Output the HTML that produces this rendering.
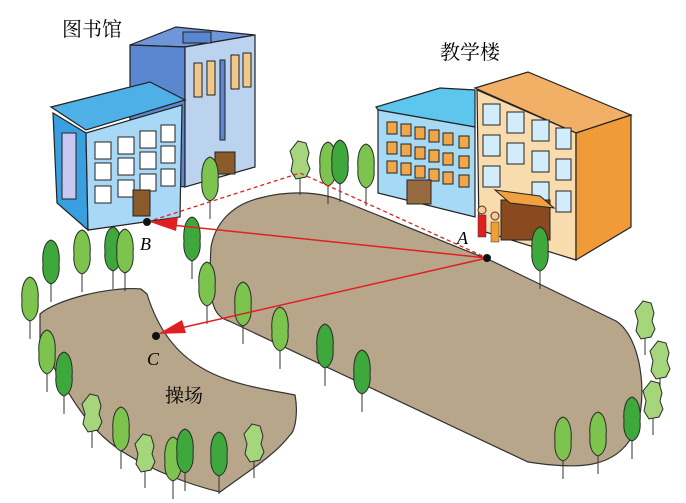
<!DOCTYPE html>
<html><head><meta charset="utf-8"><style>
html,body{margin:0;padding:0;background:#fff;}
svg{display:block;}
text{font-family:"Liberation Serif","Noto Serif CJK SC",serif;}
</style></head><body>
<svg width="686" height="503" viewBox="0 0 686 503" xmlns="http://www.w3.org/2000/svg">
<defs>
<g id="t1"><line x1="0" y1="0" x2="0" y2="34" stroke="#333" stroke-width="1"/><path d="M0,-28 C7,-26 9,-14 8,-4 C9,6 6,14 0,16 C-6,14 -9,6 -8,-4 C-9,-14 -7,-26 0,-28Z" fill="#3fa83c" stroke="#2a2a2a" stroke-width="1"/></g>
<g id="t2"><line x1="0" y1="0" x2="0" y2="34" stroke="#333" stroke-width="1"/><path d="M0,-28 C7,-26 9,-14 8,-4 C9,6 6,14 0,16 C-6,14 -9,6 -8,-4 C-9,-14 -7,-26 0,-28Z" fill="#7cc44e" stroke="#2a2a2a" stroke-width="1"/></g>
<g id="t3"><line x1="0" y1="0" x2="0" y2="30" stroke="#333" stroke-width="1"/><path d="M-2,-24 L6,-22 L9,-12 L7,-4 L10,4 L6,12 L-4,14 L-9,6 L-7,-4 L-10,-14Z" fill="#a6d67c" stroke="#2a2a2a" stroke-width="1"/></g>
</defs>
<!-- library back tall -->
<polygon points="130,45 176,27 255,35 185,47" fill="#6f96d8" stroke="#222" stroke-width="1.2"/>
<polygon points="130,45 185,47 185,187 130,180" fill="#5b86d0" stroke="#222" stroke-width="1.2"/>
<polygon points="185,47 255,35 255,167 185,187" fill="#bcd3f0" stroke="#222" stroke-width="1.2"/>
<rect x="183" y="32" width="28" height="11" fill="#5b86d0" stroke="#222"/>
<g fill="#f0c98a" stroke="#222"><rect x="194" y="63" width="8" height="34"/><rect x="207" y="61" width="8" height="34"/><rect x="231" y="55" width="8" height="34"/><rect x="243" y="53" width="8" height="34"/></g>
<rect x="220" y="60" width="5" height="80" fill="#5b86d0" stroke="#222"/>
<rect x="215" y="152" width="20" height="22" fill="#8a5a2a" stroke="#222"/>
<!-- library front -->
<polygon points="51,107 150,82 185,100 86,130" fill="#4fb0e8" stroke="#222" stroke-width="1.2"/>
<polygon points="53,113 86,133 88,230 57,203" fill="#3a9fe0" stroke="#222" stroke-width="1.2"/>
<polygon points="86,133 182,105 180,217 88,230" fill="#a8d8f5" stroke="#222" stroke-width="1.2"/>
<rect x="62" y="133" width="14" height="66" fill="#c6c8f0" stroke="#222"/>
<g fill="#fff" stroke="#222">
<rect x="95" y="142" width="16" height="17"/><rect x="118" y="137" width="16" height="17"/><rect x="140" y="131" width="16" height="17"/><rect x="161" y="125" width="14" height="17"/>
<rect x="95" y="163" width="16" height="17"/><rect x="118" y="158" width="16" height="17"/><rect x="140" y="152" width="16" height="17"/><rect x="161" y="146" width="14" height="17"/>
<rect x="95" y="186" width="16" height="17"/><rect x="118" y="180" width="16" height="17"/><rect x="140" y="174" width="16" height="17"/><rect x="161" y="169" width="14" height="17"/>
</g>
<rect x="133" y="190" width="17" height="26" fill="#8a5a2a" stroke="#222"/>
<!-- teaching blue -->
<polygon points="376,107 440,88 475,90 475,127 378,110" fill="#5cc6ef" stroke="#222" stroke-width="1.2"/>
<polygon points="378,110 475,127 475,217 378,193" fill="#a6d9f4" stroke="#222" stroke-width="1.2"/>
<g fill="#f1a64a" stroke="#222">
<rect x="387" y="122" width="10" height="12"/><rect x="401" y="124" width="10" height="12"/><rect x="415" y="127" width="10" height="12"/><rect x="429" y="130" width="10" height="12"/><rect x="443" y="133" width="10" height="12"/><rect x="459" y="136" width="10" height="12"/>
<rect x="387" y="142" width="10" height="12"/><rect x="401" y="144" width="10" height="12"/><rect x="415" y="147" width="10" height="12"/><rect x="429" y="150" width="10" height="12"/><rect x="443" y="153" width="10" height="12"/><rect x="459" y="156" width="10" height="12"/>
<rect x="387" y="161" width="10" height="12"/><rect x="401" y="163" width="10" height="12"/><rect x="415" y="166" width="10" height="12"/><rect x="429" y="169" width="10" height="12"/><rect x="443" y="172" width="10" height="12"/><rect x="459" y="175" width="10" height="12"/>
</g>
<rect x="407" y="180" width="24" height="24" fill="#986a40" stroke="#222"/>
<!-- teaching orange -->
<polygon points="475,88 528,72 631,115 576,133" fill="#f2b066" stroke="#222" stroke-width="1.2"/>
<polygon points="477,90 576,133 576,260 479,230" fill="#f8dcae" stroke="#222" stroke-width="1.2"/>
<polygon points="576,133 631,115 631,227 576,260" fill="#f19a38" stroke="#222" stroke-width="1.2"/>
<g fill="#d2ecfa" stroke="#222">
<rect x="483" y="104" width="17" height="21"/><rect x="507" y="112" width="17" height="21"/><rect x="532" y="120" width="17" height="21"/><rect x="556" y="128" width="15" height="21"/>
<rect x="483" y="135" width="17" height="21"/><rect x="507" y="143" width="17" height="21"/><rect x="532" y="151" width="17" height="21"/><rect x="556" y="159" width="15" height="21"/>
<rect x="483" y="166" width="17" height="21"/><rect x="532" y="182" width="17" height="21"/><rect x="556" y="191" width="15" height="21"/>
</g>
<rect x="501" y="200" width="49" height="40" fill="#8a4a20" stroke="#222"/>
<polygon points="495,190 540,196 554,208 510,203" fill="#f0a040" stroke="#222"/>
<!-- playground -->
<path d="M211,247 C215,225 230,205 260,198 C290,190 320,192 340,200 L492,261 L616,321 C645,340 648,410 633,435 C615,468 580,470 528,462 L229,321 C212,316 208,300 211,247Z" fill="#b8a68a" stroke="#333" stroke-width="1.2"/>
<path d="M40,314 C55,300 110,286 141,289 L147,294 C155,320 170,350 202,368 C230,385 270,390 295,395 C298,410 296,430 290,435 C275,455 250,470 220,492 C190,485 150,470 120,450 C90,430 70,400 40,341Z" fill="#b8a68a" stroke="#333" stroke-width="1.2"/>
<!-- trees -->
<use href="#t2" x="210" y="185"/><use href="#t3" x="300" y="165"/><use href="#t2" x="328" y="170"/><use href="#t1" x="340" y="168"/><use href="#t2" x="366" y="172"/>
<use href="#t1" x="192" y="245"/><use href="#t2" x="207" y="290"/><use href="#t2" x="243" y="310"/><use href="#t2" x="280" y="335"/><use href="#t1" x="325" y="352"/><use href="#t1" x="362" y="378"/>
<use href="#t1" x="51" y="268"/><use href="#t2" x="82" y="258"/><use href="#t1" x="113" y="255"/><use href="#t2" x="125" y="257"/>
<use href="#t2" x="30" y="305"/><use href="#t2" x="47" y="358"/><use href="#t1" x="64" y="380"/><use href="#t3" x="92" y="418"/><use href="#t2" x="121" y="435"/><use href="#t3" x="145" y="458"/><use href="#t2" x="173" y="465"/><use href="#t1" x="185" y="457"/><use href="#t1" x="219" y="460"/><use href="#t3" x="254" y="448"/>
<use href="#t1" x="540" y="255"/><use href="#t3" x="645" y="325"/><use href="#t3" x="660" y="365"/><use href="#t3" x="653" y="405"/><use href="#t1" x="632" y="425"/><use href="#t2" x="598" y="440"/><use href="#t2" x="563" y="445"/>
<!-- people -->
<rect x="478" y="215" width="8" height="22" fill="#e02020" stroke="#333" stroke-width=".5"/><circle cx="482" cy="210" r="4" fill="#f2c9a0" stroke="#5a3010"/>
<rect x="491" y="222" width="8" height="20" fill="#f0a030" stroke="#333" stroke-width=".5"/><circle cx="495" cy="216" r="4" fill="#f2c9a0" stroke="#5a3010"/>
<!-- lines -->
<polyline points="147,222 300,173 487,258" fill="none" stroke="#e02020" stroke-width="1.3" stroke-dasharray="4,3"/>
<line x1="487" y1="258" x2="162" y2="224" stroke="#e02020" stroke-width="1.5"/>
<polygon points="150,222 178,217 176,231" fill="#e02020"/>
<line x1="487" y1="258" x2="172" y2="330" stroke="#e02020" stroke-width="1.5"/>
<polygon points="158,334 182,320 186,333" fill="#e02020"/>
<circle cx="147" cy="222" r="4" fill="#111"/><circle cx="487" cy="258" r="4" fill="#111"/><circle cx="156" cy="336" r="4" fill="#111"/>
<text x="140" y="250" font-size="18" font-style="italic">B</text>
<text x="457" y="244" font-size="18" font-style="italic">A</text>
<text x="147" y="365" font-size="18" font-style="italic">C</text>
<text x="165" y="402" font-size="19">操场</text>
<text x="62" y="36" font-size="20">图书馆</text>
<text x="440" y="59" font-size="20">教学楼</text>
</svg>
</body></html>
